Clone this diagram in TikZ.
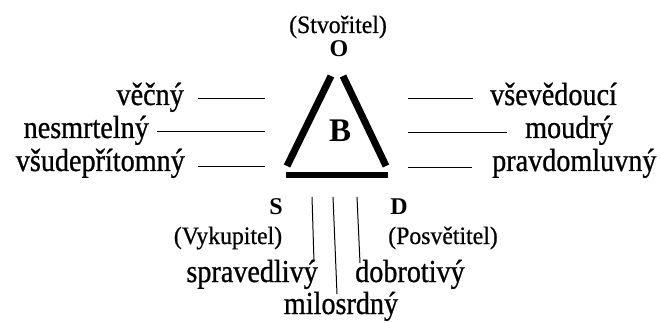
\documentclass[tikz,border=0pt]{standalone}
\usepackage{fontspec}
\setmainfont{Liberation Serif}
\newfontfamily\attrfont{Liberation Serif}[FakeStretch=0.88,FakeBold=0.8]
\newfontfamily\rolefont{Liberation Serif}[FakeStretch=0.95,FakeBold=0.6]
\begin{document}
\begin{tikzpicture}[x=1pt,y=-1pt,
  attr/.style={inner sep=0pt,font=\attrfont\fontsize{32}{34}\selectfont},
  role/.style={inner sep=0pt,font=\rolefont\fontsize{25}{27}\selectfont},
  letter/.style={inner sep=0pt,font=\fontsize{24}{26}\selectfont\bfseries},
  side/.style={line width=7pt},
  tick/.style={line width=1pt}]
\useasboundingbox (0,0) rectangle (660,323);
% triangle
\coordinate (tl1) at (287,166); \coordinate (tl2) at (331,76);
\coordinate (tr1) at (343,76); \coordinate (tr2) at (386,166);
\coordinate (b1) at (286,175); \coordinate (b2) at (388,175);
\draw[side] (tl1) -- (tl2);
\draw[side] (tr1) -- (tr2);
\draw[side,line width=6.5pt] (b1) -- (b2);
\node[inner sep=0pt,font=\fontsize{33}{35}\selectfont\bfseries] (B) at (340,131) {B};
% vertex labels
\node[role,anchor=base] (stv) at (338,33) {(Stvořitel)};
\node[letter,anchor=base] (O) at (339,57) {O};
\node[letter,anchor=base] (S) at (276,214) {S};
\node[letter,anchor=base] (D) at (399,214) {D};
\node[role,anchor=base] (vyk) at (228,244) {(Vykupitel)};
\node[role,anchor=base] (pos) at (443,244) {(Posvětitel)};
% left attributes
\node[attr,anchor=base east] (vec) at (184,105) {věčný};
\node[attr,anchor=base east] (nes) at (149,138) {nesmrtelný};
\node[attr,anchor=base east] (vsu) at (185,171) {všudepřítomný};
\coordinate (vecE) at (265,99);
\coordinate (nesE) at (265,132);
\coordinate (vsuE) at (265,166);
\draw[tick] ([xshift=14pt]vec.base east |- vecE) -- (vecE);
\draw[tick] ([xshift=8pt]nes.base east |- nesE) -- (nesE);
\draw[tick] ([xshift=13pt]vsu.base east |- vsuE) -- (vsuE);
% right attributes
\node[attr,anchor=base west] (vse) at (490,105) {vševědoucí};
\node[attr,anchor=base west] (mou) at (525,138) {moudrý};
\node[attr,anchor=base west] (pra) at (492,171) {pravdomluvný};
\coordinate (vseW) at (408,99);
\coordinate (mouW) at (408,133);
\coordinate (praW) at (408,167);
\draw[tick] (vseW) -- ([xshift=-17pt]vse.base west |- vseW);
\draw[tick] (mouW) -- ([xshift=-18pt]mou.base west |- mouW);
\draw[tick] (praW) -- ([xshift=-20pt]pra.base west |- praW);
% bottom attributes
\node[attr,anchor=base east] (spr) at (318,282) {spravedlivý};
\node[attr,anchor=base west] (dob) at (355,282) {dobrotivý};
\node[attr,anchor=base] (mil) at (341,314) {milosrdný};
\coordinate (s1) at (312,197); \coordinate (s2) at (314,262);
\coordinate (m1) at (333,197); \coordinate (m2) at (337,294);
\coordinate (d1) at (357,197); \coordinate (d2) at (360,263);
\draw[tick] (s1) -- (s2);
\draw[tick] (m1) -- (m2);
\draw[tick] (d1) -- (d2);
\end{tikzpicture}
\end{document}
